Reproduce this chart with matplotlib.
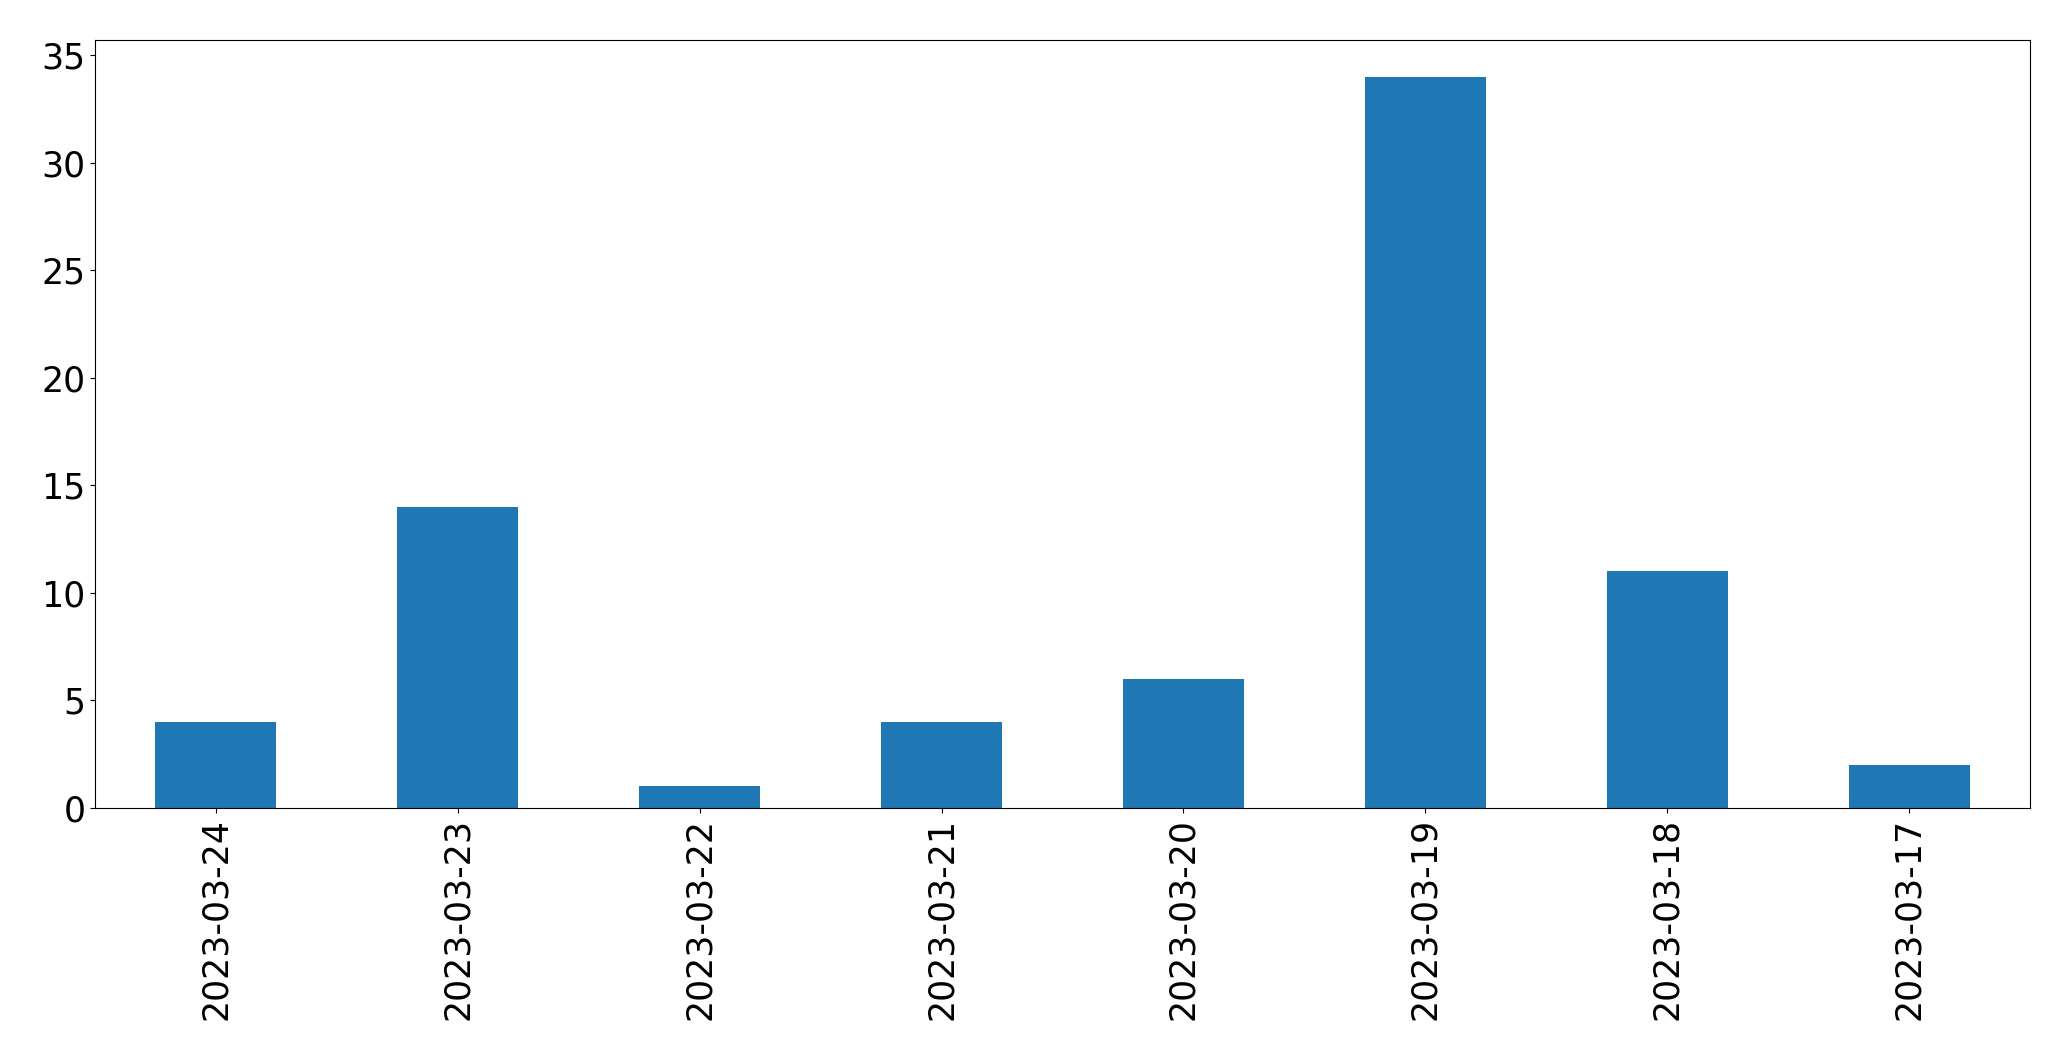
import matplotlib
matplotlib.use("Agg")
import matplotlib.pyplot as plt
import pandas as pd

# daily counts, newest first (as in the original index order)
dates = ["2023-03-24", "2023-03-23", "2023-03-22", "2023-03-21",
         "2023-03-20", "2023-03-19", "2023-03-18", "2023-03-17"]
counts = [4, 14, 1, 4, 6, 34, 11, 2]

counts_series = pd.Series(counts, index=dates)

fig = plt.figure(figsize=(20.71, 10.61), dpi=100)
ax = fig.add_axes([95 / 2071, 1 - 808 / 1061, (2030 - 95) / 2071, (808 - 40) / 1061])
counts_series.plot(kind="bar", ax=ax, color="#1f77b4", width=0.5)

ax.tick_params(axis="both", labelsize=25)
ax.set_yticks(range(0, 36, 5))

fig.savefig("out.png", dpi=100)
plt.close()
